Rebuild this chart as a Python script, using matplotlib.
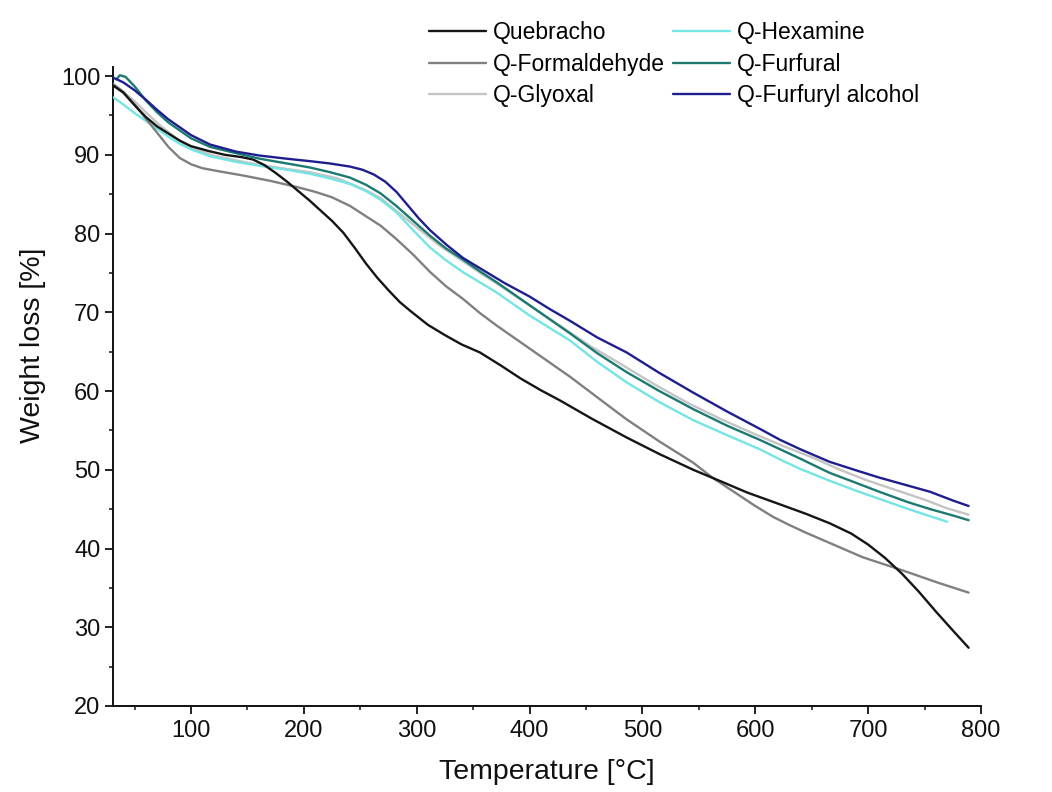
import matplotlib
matplotlib.use("Agg")
import matplotlib.pyplot as plt
from matplotlib.ticker import MultipleLocator

plt.rcParams['font.family'] = ['Liberation Sans', 'DejaVu Sans']

# ---- data ----
labels = ["Quebracho", "Q-Formaldehyde", "Q-Glyoxal",
          "Q-Hexamine", "Q-Furfural", "Q-Furfuryl alcohol"]

t_queb = [31, 40, 50, 60, 70, 80, 90, 100, 115, 130, 145, 155, 165, 175, 185, 195, 205,
          215, 225, 235, 245, 255, 265, 275, 285, 295, 310, 325, 340, 356, 375, 392, 410,
          427, 455, 486, 515, 545, 570, 593, 622, 645, 666, 685, 700, 715, 730, 745, 760,
          775, 789]
w_queb = [98.8, 97.9, 96.3, 94.8, 93.6, 92.7, 91.8, 91.1, 90.5, 90.0, 89.7, 89.4, 88.7,
          87.7, 86.6, 85.4, 84.2, 82.9, 81.6, 80.1, 78.2, 76.2, 74.4, 72.8, 71.3, 70.1,
          68.4, 67.1, 65.9, 64.9, 63.2, 61.6, 60.1, 58.8, 56.5, 54.1, 52.0, 50.0, 48.5,
          47.1, 45.6, 44.4, 43.2, 41.9, 40.5, 38.8, 36.8, 34.5, 32.0, 29.6, 27.4]

t_form = [31, 40, 50, 60, 70, 80, 90, 100, 110, 125, 145, 170, 194, 210, 225, 241, 255,
          268, 282, 297, 312, 326, 341, 356, 371, 386, 400, 418, 436, 460, 486, 515, 545,
          562, 580, 600, 616, 630, 645, 666, 695, 731, 761, 789]
w_form = [99.0, 98.0, 96.4, 94.6, 92.8, 91.0, 89.6, 88.8, 88.3, 87.9, 87.4, 86.7, 85.9,
          85.3, 84.6, 83.5, 82.2, 81.0, 79.3, 77.3, 75.1, 73.3, 71.7, 69.9, 68.3, 66.8,
          65.4, 63.6, 61.8, 59.2, 56.4, 53.6, 50.9, 49.0, 47.3, 45.4, 44.0, 43.0, 42.0,
          40.7, 38.9, 37.2, 35.7, 34.4]

t_glyo = [31, 40, 50, 60, 72, 88, 100, 120, 150, 180, 205, 230, 255, 268, 280, 300, 320,
          350, 380, 405, 430, 455, 480, 510, 540, 570, 600, 625, 650, 675, 700, 725, 750,
          770, 789]
w_glyo = [98.8, 98.0, 96.8, 95.4, 93.8, 92.0, 90.9, 89.9, 89.0, 88.3, 87.8, 87.0, 85.5,
          84.5, 83.1, 80.8, 78.5, 75.6, 72.8, 70.4, 68.0, 65.6, 63.5, 60.9, 58.5, 56.4,
          54.5, 53.0, 51.6, 50.0, 48.6, 47.4, 46.2, 45.1, 44.3]

t_hexa = [31, 40, 50, 60, 70, 80, 90, 100, 117, 140, 161, 185, 205, 223, 241, 255, 268,
          282, 297, 312, 326, 341, 356, 371, 386, 400, 418, 436, 460, 486, 515, 545, 575,
          604, 622, 640, 666, 690, 710, 740, 770]
w_hexa = [97.3, 96.4, 95.3, 94.3, 93.3, 92.3, 91.4, 90.7, 89.8, 89.1, 88.6, 88.1, 87.6,
          87.0, 86.3, 85.4, 84.3, 82.7, 80.4, 78.2, 76.6, 75.1, 73.8, 72.5, 71.0, 69.6,
          68.0, 66.4, 63.7, 61.1, 58.6, 56.3, 54.4, 52.6, 51.3, 50.1, 48.6, 47.3, 46.3,
          44.8, 43.4]

t_furf = [34, 37, 42, 50, 60, 70, 80, 90, 100, 117, 140, 161, 185, 205, 223, 241, 255,
          268, 282, 297, 312, 326, 341, 356, 371, 386, 400, 418, 436, 460, 486, 515, 545,
          575, 604, 622, 640, 666, 690, 710, 735, 755, 775, 789]
w_furf = [99.6, 100.1, 99.9, 98.7, 96.9, 95.4, 94.1, 93.1, 92.1, 91.0, 90.2, 89.5, 88.9,
          88.4, 87.8, 87.1, 86.2, 85.1, 83.5, 81.6, 79.7, 78.1, 76.7, 75.2, 73.8, 72.3,
          70.9, 69.1, 67.3, 64.8, 62.4, 60.0, 57.7, 55.6, 53.8, 52.6, 51.4, 49.6, 48.3,
          47.2, 45.9, 45.0, 44.2, 43.6]

t_falc = [31, 40, 50, 60, 70, 80, 90, 100, 117, 140, 161, 185, 205, 223, 241, 252, 262,
          272, 282, 292, 302, 312, 327, 341, 356, 378, 400, 418, 436, 460, 486, 515, 545,
          575, 604, 622, 640, 666, 690, 710, 735, 755, 775, 789]
w_falc = [99.8, 99.2, 98.2, 97.0, 95.7, 94.5, 93.5, 92.5, 91.3, 90.4, 89.9, 89.5, 89.2,
          88.9, 88.5, 88.1, 87.5, 86.6, 85.3, 83.6, 81.9, 80.4, 78.5, 76.9, 75.6, 73.7,
          72.0, 70.4, 68.9, 66.8, 64.9, 62.3, 59.8, 57.4, 55.2, 53.8, 52.6, 51.0, 49.9,
          49.0, 48.0, 47.2, 46.1, 45.4]

series_t = [t_queb, t_form, t_glyo, t_hexa, t_furf, t_falc]
series_w = [w_queb, w_form, w_glyo, w_hexa, w_furf, w_falc]
colors = ["#151515", "#808080", "#c4c4c4", "#74e4e4", "#1c7a70", "#1e1e8e"]
zorders = [5, 4, 2, 3, 5, 6]

fig = plt.figure(figsize=(10.52, 7.92), dpi=100)
ax = fig.add_axes([113/1052, 1 - 706/792, (981 - 113)/1052, (706 - 67)/792])

for t, w, c, z, lab in zip(series_t, series_w, colors, zorders, labels):
    ax.plot(t, w, color=c, lw=1.7, zorder=z, label=lab,
            solid_capstyle='round', solid_joinstyle='round')

ax.set_xlim(30.9, 800)
ax.set_ylim(20, 101.15)
ax.xaxis.set_minor_locator(MultipleLocator(50))
ax.yaxis.set_minor_locator(MultipleLocator(5))
ax.set_xticks([100, 200, 300, 400, 500, 600, 700, 800])
ax.set_yticks([20, 30, 40, 50, 60, 70, 80, 90, 100])

for s in ['top', 'right']:
    ax.spines[s].set_visible(False)
for s in ['left', 'bottom']:
    ax.spines[s].set_linewidth(1.4)
    ax.spines[s].set_color('#111111')

ax.tick_params(which='major', direction='out', length=5.5, width=1.3, labelsize=17,
               colors='#111111')
ax.tick_params(axis='x', which='major', pad=4.5)
ax.tick_params(axis='y', which='major', pad=3.5)
ax.tick_params(which='minor', direction='out', length=3, width=1.1, colors='#111111')

ax.set_xlabel("Temperature [°C]", fontsize=20.5, color='#111111', labelpad=12)
ax.set_ylabel("Weight loss [%]", fontsize=20.5, color='#111111')
ax.yaxis.set_label_coords((46 - 113) / 868, (706 - 345) / 639)

fig.legend(loc='upper left', bbox_to_anchor=(429/1052, 1 - 21/792), ncol=2,
           frameon=False, fontsize=16.5, handlelength=2.5, handletextpad=0.3,
           columnspacing=0.35, labelspacing=0.38, borderpad=0, borderaxespad=0)

fig.savefig("out.png", dpi=100)
